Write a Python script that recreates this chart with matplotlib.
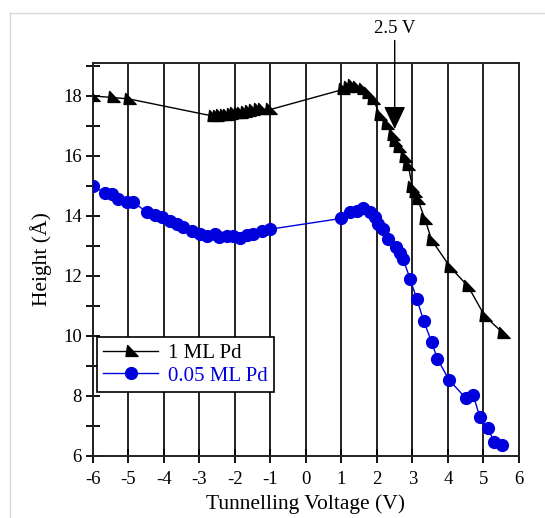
import matplotlib
matplotlib.use("Agg")
import matplotlib.pyplot as plt
from matplotlib.path import Path
from matplotlib.lines import Line2D

# 1 ML Pd
v_1ml = [-6.0, -5.45, -4.98, -2.62, -2.52, -2.42, -2.32, -2.22, -2.12, -2.02, -1.92,
         -1.82, -1.72, -1.6, -1.48, -1.36, -1.24, -1.0, 1.05, 1.18, 1.3, 1.45, 1.6,
         1.75, 1.9, 2.08, 2.28, 2.45, 2.52, 2.62, 2.8, 2.88, 3.0, 3.07, 3.15, 3.35,
         3.54, 4.06, 4.57, 5.04, 5.55]
h_1ml = [18.0, 17.95, 17.9, 17.33, 17.33, 17.36, 17.38, 17.38, 17.4, 17.42, 17.44,
         17.44, 17.47, 17.5, 17.52, 17.55, 17.56, 17.55, 18.22, 18.3, 18.35, 18.3, 18.22,
         18.1, 17.9, 17.35, 17.07, 16.7, 16.5, 16.3, 15.97, 15.7, 14.95, 14.8, 14.55, 13.9,
         13.2, 12.3, 11.65, 10.66, 10.1]

# 0.05 ML Pd
v_005 = [-6.0, -5.66, -5.47, -5.29, -5.05, -4.86, -4.49, -4.25, -4.06, -3.83, -3.64,
         -3.46, -3.22, -2.99, -2.8, -2.56, -2.45, -2.23, -2.05, -1.86, -1.67, -1.48,
         -1.25, -1.01, 1.0, 1.24, 1.43, 1.61, 1.8, 1.94, 2.04, 2.18, 2.32, 2.55, 2.65,
         2.74, 2.93, 3.12, 3.32, 3.54, 3.7, 4.03, 4.5, 4.71, 4.9, 5.12, 5.31, 5.51]
h_005 = [15.0, 14.76, 14.73, 14.58, 14.46, 14.46, 14.13, 14.03, 13.96, 13.84, 13.73,
         13.62, 13.5, 13.39, 13.33, 13.39, 13.3, 13.33, 13.33, 13.25, 13.36, 13.39,
         13.5, 13.56, 13.92, 14.12, 14.17, 14.25, 14.12, 13.95, 13.73, 13.56, 13.22, 12.95, 12.78,
         12.56, 11.91, 11.24, 10.49, 9.8, 9.24, 8.54, 7.93, 8.04, 7.29, 6.92, 6.48, 6.37]

labels = ["1 ML Pd", "0.05 ML Pd"]
x_ticks = list(range(-6, 7))
y_ticks = [6, 8, 10, 12, 14, 16, 18]
arrow_v = 2.5
arrow_tip_h = 16.9
arrow_text = "2.5 V"

plt.rcParams["font.family"] = ["Liberation Serif", "DejaVu Serif"]

fig = plt.figure(figsize=(5.45, 5.18), dpi=100)
ax = fig.add_axes([0.1706, 0.1197, 0.7816, 0.7587])

# sail-shaped triangle marker
tri = Path([(-0.35, 0.55), (-0.5, -0.45), (0.6, -0.45), (-0.35, 0.55)],
           [Path.MOVETO, Path.LINETO, Path.LINETO, Path.CLOSEPOLY])

ax.plot(v_1ml, h_1ml, color="black", lw=1.0, marker=tri, markersize=9.5,
        markerfacecolor="black", markeredgecolor="black", label=labels[0], zorder=3)
ax.plot(v_005, h_005, color="#0000dd", lw=1.0, marker="o", markersize=8.5,
        markerfacecolor="#0000dd", markeredgecolor="#0000dd", label=labels[1], zorder=3)

ax.set_xlim(-6, 6)
ax.set_ylim(6, 19.1)
ax.set_xticks(x_ticks)
ax.set_xticklabels([str(t) for t in x_ticks])
ax.set_yticks(y_ticks)
ax.set_yticks([7, 9, 11, 13, 15, 17, 19], minor=True)
ax.tick_params(axis="both", which="both", direction="inout", length=10, width=1.3,
               labelsize=13.5, pad=3)
ax.tick_params(axis="x", pad=6)
ax.xaxis.grid(True, color="#222222", lw=1.4)
ax.set_axisbelow(True)
for s in ax.spines.values():
    s.set_linewidth(1.4)
    s.set_color("#222222")

ax.set_xlabel("Tunnelling Voltage (V)", fontsize=15.5, labelpad=4)
ax.set_ylabel("Height (Å)", fontsize=15.5, labelpad=8)

leg = ax.legend(loc="lower left", bbox_to_anchor=(0.01, 0.163), fontsize=15,
                frameon=True, fancybox=False, edgecolor="black", framealpha=1,
                handlelength=2.6, borderpad=0.3, labelspacing=0.15, handletextpad=0.5,
                borderaxespad=0, labelcolor="linecolor")
leg.get_frame().set_linewidth(1.2)

ax.annotate("", xy=(arrow_v, arrow_tip_h), xytext=(arrow_v, 19.85),
            arrowprops=dict(arrowstyle="-|>,head_length=1.05,head_width=0.5",
                            mutation_scale=13.5, lw=1.0, color="black",
                            shrinkA=0, shrinkB=0),
            annotation_clip=False, zorder=5)
ax.text(arrow_v, 20.25, arrow_text, ha="center", va="center", fontsize=13.5)

# faint frame along the upper-left edges of the figure
fig.add_artist(Line2D([10 / 545, 10 / 545], [0, 1 - 13 / 518], transform=fig.transFigure,
                      color="#d8d8d8", lw=1))
fig.add_artist(Line2D([10 / 545, 1], [1 - 13 / 518, 1 - 13 / 518], transform=fig.transFigure,
                      color="#d8d8d8", lw=1))

fig.savefig("out.png", dpi=100)
